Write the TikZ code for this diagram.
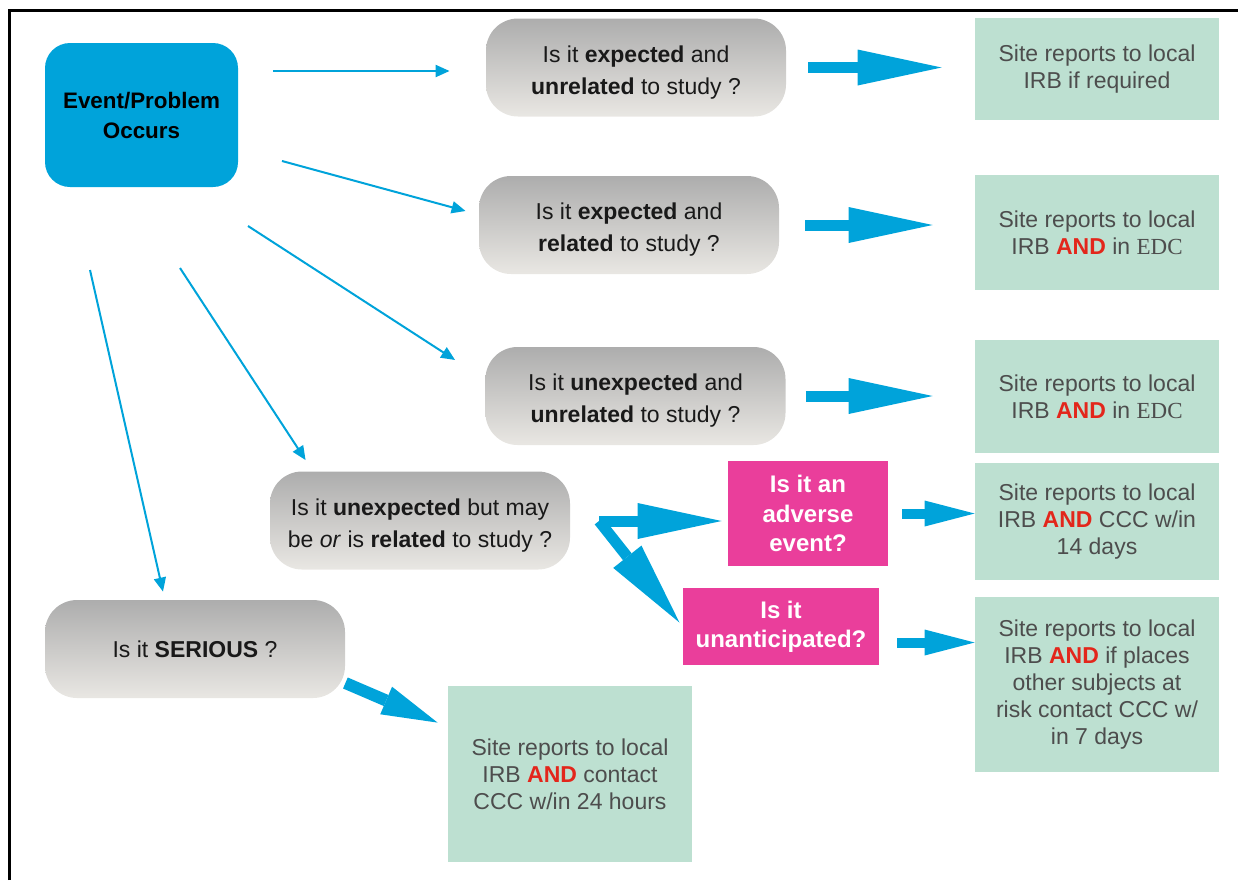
\documentclass[tikz,border=0pt]{standalone}
\usepackage{fontspec}
\setmainfont{Liberation Sans}
\newfontfamily\edcfont{Liberation Serif}
\usetikzlibrary{arrows.meta}
\definecolor{evblue}{RGB}{0,163,218}
\definecolor{qtop}{RGB}{173,173,173}
\definecolor{qbot}{RGB}{233,231,227}
\definecolor{sitegreen}{RGB}{189,224,209}
\definecolor{askpink}{RGB}{234,62,155}
\definecolor{sitetext}{RGB}{77,77,77}
\definecolor{andred}{RGB}{227,38,27}
\newcommand{\redand}{\textcolor{andred}{\textbf{AND}}}
\begin{document}
\begin{tikzpicture}[x=0.5pt,y=-0.5pt,
  question/.style={rounded corners=16pt, top color=qtop, bottom color=qbot, minimum width=150pt, minimum height=49pt, align=center, text=black!90, font=\fontsize{11.5}{16}\selectfont, inner sep=0pt},
  twoline/.style={text height=29pt, text depth=2.4pt},
  site/.style={fill=sitegreen, minimum width=122pt, align=center, text=sitetext, font=\fontsize{11.5}{13.5}\selectfont, inner sep=0pt},
  ask/.style={fill=askpink, align=center, text=white, font=\bfseries\fontsize{12}{14.7}\selectfont, inner sep=0pt},
  pointer/.style={evblue, line width=1pt, -{Triangle[length=7pt,width=6pt]}},
  bigarrow/.style={evblue, line width=5.5pt, -{Triangle[length=42pt,width=18pt,line width=0pt]}},
  midarrow/.style={evblue, line width=6pt, -{Triangle[length=28pt,width=15pt,line width=0pt]}},
  smallarrow/.style={evblue, line width=5pt, -{Triangle[length=25pt,width=13pt,line width=0pt]}}]
\useasboundingbox (0,0) rectangle (1238,880);
\draw[line width=1.5pt] (9,880) -- (9,10) -- (1238,10);

% start
\node[fill=evblue, rounded corners=12.5pt, minimum width=96.5pt, minimum height=72pt, align=center, font=\bfseries\fontsize{11.2}{15}\selectfont] (event) at (141.5,115) {Event/Problem\\Occurs};

% questions
\node[question, twoline] (q1) at (636,67.5) {Is it \textbf{expected} and\\\textbf{unrelated} to study ?};
\node[question, twoline] (q2) at (629,225) {Is it \textbf{expected} and\\\textbf{related} to study ?};
\node[question, twoline] (q3) at (635.5,396) {Is it \textbf{unexpected} and\\\textbf{unrelated} to study ?};
\node[question, twoline] (q4) at (420,520.5) {Is it \textbf{unexpected} but may\\be \textit{or} is \textbf{related} to study ?};
\node[question] (q5) at (195,649) {Is it \textbf{SERIOUS} ?};

\node[ask, minimum width=80pt, minimum height=52.5pt] (m1) at (808,513.5) {Is it an\\adverse\\event?};
\node[ask, minimum width=98pt, minimum height=38.5pt] (m2) at (781,626.5) {Is it\\unanticipated?};

% what the site does
\node[site, minimum height=51pt] (g1) at (1097,69) {Site reports to local\\IRB if required};
\node[site, minimum height=57.5pt] (g2) at (1097,232.5) {Site reports to local\\IRB \redand{} in {\edcfont EDC}};
\node[site, minimum height=56.5pt] (g3) at (1097,396.5) {Site reports to local\\IRB \redand{} in {\edcfont EDC}};
\node[site, minimum height=58.5pt] (g4) at (1097,521.5) {Site reports to local\\IRB \redand{} CCC w/in\\14 days};
\node[site, minimum height=87.5pt] (g5) at (1097,684.5) {Site reports to local\\IRB \redand{} if places\\other subjects at\\risk contact CCC w/\\in 7 days};
\node[site, minimum height=88pt] (g6) at (570,774) {Site reports to local\\IRB \redand{} contact\\CCC w/in 24 hours};

% thin arrows out of the event box
\coordinate (p1) at (273,71);
\coordinate (p2) at (282,161);
\coordinate (p3) at (248,226);
\coordinate (p4) at (180,268);
\coordinate (p5) at (90,270);
\draw[pointer, shorten >=18pt] (p1) -- (p1 -| q1.west);
\draw[pointer] (p2) -- ([xshift=-6.5pt,yshift=7pt]q2.west);
\draw[pointer] (p3) -- ([xshift=-15pt,yshift=18pt]q3.west);
\draw[pointer] (p4) -- ([xshift=18pt,yshift=5.5pt]q4.north west);
\draw[pointer] (p5) -- ([xshift=-16pt,yshift=4pt]q5.north);

% fat arrows
\draw[bigarrow, shorten <=11pt, shorten >=16.5pt] (q1.east) -- (q1.east -| g1.west);
\draw[bigarrow, shorten <=13pt, shorten >=21pt] (q2.east) -- (q2.east -| g2.west);
\draw[bigarrow, shorten <=10pt, shorten >=21pt] (q3.east) -- (q3.east -| g3.west);
\coordinate (fork) at (599,521);
\draw[bigarrow, shorten >=3pt] (fork) -- (fork -| m1.west);
\draw[bigarrow, shorten >=2.5pt] (fork) -- (m2.west);
\draw[smallarrow, shorten <=7pt] (m1.east) -- (m1.east -| g4.west);
\coordinate (f6) at ([yshift=-8pt]m2.east);
\draw[smallarrow, shorten <=9pt] (f6) -- (f6 -| g5.west);
\draw[midarrow] ([yshift=-17pt]q5.east) -- ([xshift=-5pt,yshift=-18.5pt]g6.north west);
\end{tikzpicture}
\end{document}
